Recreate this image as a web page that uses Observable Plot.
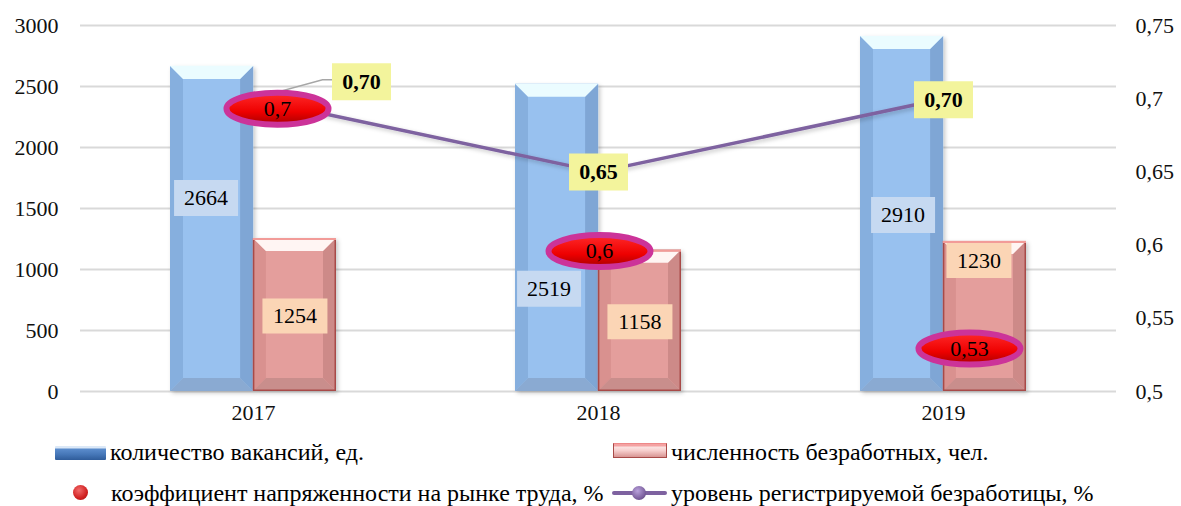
<!DOCTYPE html>
<html><head><meta charset="utf-8">
<script src="https://cdn.jsdelivr.net/npm/d3@7"></script>
<script src="https://cdn.jsdelivr.net/npm/@observablehq/plot@0.6"></script>
<style>
body{margin:0;background:#fff;}
#chart{position:relative;width:1181px;height:506px;overflow:hidden;}
#chart svg{position:absolute;left:0;top:0;}
.lg{position:absolute;font-size:24px;line-height:26px;color:#000;white-space:nowrap;}
.sw{position:absolute;}
</style></head><body><div id="chart" style="font-family:'Liberation Serif'"></div>
<script>
// ---- data ----
const years = ["2017", "2018", "2019"];
const vacancies = [2664, 2519, 2910];
const unemployed = [1254, 1158, 1230];
const tension = [0.7, 0.6, 0.53];
const tensionLabels = ["0,7", "0,6", "0,53"];
const unemploymentRate = [0.70, 0.65, 0.70];
const rateLabels = ["0,70", "0,65", "0,70"];
const leftTicks = [0, 500, 1000, 1500, 2000, 2500, 3000];
const rightTicks = [0.5, 0.55, 0.6, 0.65, 0.7, 0.75];
const rightTickLabels = ["0,5", "0,55", "0,6", "0,65", "0,7", "0,75"];
const seriesNames = ["количество вакансий, ед.", "численность безработных, чел.",
  "коэффициент напряженности на рынке труда, %", "уровень регистрируемой безработицы, %"];

// ---- layout ----
const W = 1181, H = 430, mL = 80, mR = 65, mT = 25, mB = 39;
const step = (W - mL - mR) / years.length;
const half = step * 0.48 / 2;
const rightDomain = [0.5, 0.75], leftMax = 3000;
const toLeft = v => (v - rightDomain[0]) / (rightDomain[1] - rightDomain[0]) * leftMax;
const FONT = "Liberation Serif";

// label nudges (pixels) — like manually moved data labels
const vacNudge = [[-6, -31], [-8, 51], [1, 1]];
const uneNudge = [[0, 1], [0, 1], [-6, -56]];
const tenNudge = [[24, 10], [1, 6], [26, 1]];
const rateNudge = [[108, -17], [0, 0], [0, 1]];

const rows = years.map((y, i) => ({year: y, vac: vacancies[i], une: unemployed[i],
  ten: tension[i], tenL: tensionLabels[i], rate: unemploymentRate[i], rateL: rateLabels[i], i}));
const segs = rows.slice(1).map((r, i) => ({x1: rows[i].year, x2: r.year, y1: toLeft(rows[i].rate), y2: toLeft(r.rate)}));

const ellipse = (rx, ry) => ({draw(ctx) {
  const k = 0.5523;
  ctx.moveTo(rx, 0);
  ctx.bezierCurveTo(rx, ry * k, rx * k, ry, 0, ry);
  ctx.bezierCurveTo(-rx * k, ry, -rx, ry * k, -rx, 0);
  ctx.bezierCurveTo(-rx, -ry * k, -rx * k, -ry, 0, -ry);
  ctx.bezierCurveTo(rx * k, -ry, rx, -ry * k, rx, 0);
  ctx.closePath();
}});
const box = (w, h) => ({draw(ctx) { ctx.rect(-w / 2, -h / 2, w, h); }});
const leader = {draw(ctx) { ctx.moveTo(0, 0); ctx.lineTo(69, -19); ctx.lineTo(79, -19); }};

const marks = [
  Plot.ruleY(leftTicks, {stroke: "#d9d9d9", strokeWidth: 2}),
  Plot.barY(rows, {x: "year", y: "vac", insetRight: half, fill: "#98C1EF"}),
  Plot.barY(rows, {x: "year", y: "une", insetLeft: half, fill: "#E49E9C"}),
  Plot.link(segs, {x1: "x1", x2: "x2", y1: "y1", y2: "y2", stroke: "#7E62A0", strokeWidth: 3.5, strokeLinecap: "round"}),
  Plot.dot([rows[0]], {x: "year", y: d => toLeft(d.rate), symbol: leader, fill: "none", stroke: "#a6a6a6", strokeWidth: 1.5})
];
rows.forEach((r, i) => {
  marks.push(Plot.dot([r], {x: "year", y: d => d.vac / 2, dx: -half / 2 + vacNudge[i][0], dy: vacNudge[i][1], symbol: box(64, 36), fill: "#C6D9F1"}));
  marks.push(Plot.text([r], {x: "year", y: d => d.vac / 2, dx: -half / 2 + vacNudge[i][0], dy: vacNudge[i][1], text: d => String(d.vac), fontSize: 22, fill: "#000"}));
  marks.push(Plot.dot([r], {x: "year", y: d => d.une / 2, dx: half / 2 + uneNudge[i][0], dy: uneNudge[i][1], symbol: box(65, 35), fill: "#FBD5B5"}));
  marks.push(Plot.text([r], {x: "year", y: d => d.une / 2, dx: half / 2 + uneNudge[i][0], dy: uneNudge[i][1], text: d => String(d.une), fontSize: 22, fill: "#000"}));
  marks.push(Plot.dot([r], {x: "year", y: d => toLeft(d.ten), dx: tenNudge[i][0], dy: tenNudge[i][1], symbol: ellipse(51, 16), fill: "url(#redGrad)", stroke: "#CC3399", strokeWidth: 6}));
  marks.push(Plot.text([r], {x: "year", y: d => toLeft(d.ten), dx: tenNudge[i][0], dy: tenNudge[i][1], text: "tenL", fontSize: 22, fill: "#000"}));
  marks.push(Plot.dot([r], {x: "year", y: d => toLeft(d.rate), dx: rateNudge[i][0], dy: rateNudge[i][1], symbol: box(59, 37), fill: "#F3F49C"}));
  marks.push(Plot.text([r], {x: "year", y: d => toLeft(d.rate), dx: rateNudge[i][0], dy: rateNudge[i][1], text: "rateL", fontSize: 22, fontWeight: "bold", fill: "#000"}));
});
marks.push(
  Plot.axisY(leftTicks, {anchor: "left", tickSize: 0, tickPadding: 22, fontSize: 22, label: null, tickFormat: d => String(d)}),
  Plot.axisY(rightTicks.map(toLeft), {anchor: "right", tickSize: 0, tickPadding: 19, fontSize: 22, label: null,
    tickFormat: d => rightTickLabels[rightTicks.findIndex(t => Math.abs(toLeft(t) - d) < 1e-6)]}),
  Plot.axisX({tickSize: 0, tickPadding: 13, fontSize: 22, label: null})
);

const svg = Plot.plot({
  width: W, height: H, marginLeft: mL, marginRight: mR, marginTop: mT, marginBottom: mB,
  style: {fontFamily: FONT, fontSize: "22px", color: "#111", background: "transparent"},
  x: {type: "band", domain: years, paddingInner: 0.52, paddingOuter: 0.26, axis: null},
  y: {domain: [0, leftMax], axis: null},
  marks
});
svg.setAttribute("font-family", FONT);
d3.select(svg).selectAll("text").style("font-family", FONT).attr("font-family", FONT);
d3.select(svg).selectAll("g").style("font-family", FONT);

d3.select(svg).insert("defs", ":first-child").html(`
  <linearGradient id="redGrad" x1="0" y1="0" x2="0" y2="1">
    <stop offset="0" stop-color="#ff2a2a"/><stop offset="0.6" stop-color="#ee0000"/><stop offset="1" stop-color="#a80000"/>
  </linearGradient>
  <filter id="shd" x="-20%" y="-20%" width="140%" height="140%"><feDropShadow dx="2" dy="2" stdDeviation="2" flood-color="#000" flood-opacity="0.22"/></filter>`);

const barGroups = d3.select(svg).selectAll('g[aria-label="bar"]').nodes();
function bevel(gNode, c, b) {
  d3.select(gNode).selectAll("rect").each(function () {
    const r = d3.select(this);
    const x = +r.attr("x"), y = +r.attr("y"), w = +r.attr("width"), h = +r.attr("height");
    const g = d3.select(this.parentNode);
    r.attr("filter", "url(#shd)");
    const poly = (pts, fill) => g.append("polygon").attr("points", pts.map(p => p.join(",")).join(" ")).attr("fill", fill);
    poly([[x, y], [x + b, y + b], [x + b, y + h - b], [x, y + h]], c.left);
    poly([[x + w, y], [x + w - b, y + b], [x + w - b, y + h - b], [x + w, y + h]], c.right);
    poly([[x, y], [x + w, y], [x + w - b, y + b], [x + b, y + b]], c.top);
    poly([[x, y + h], [x + w, y + h], [x + w - b, y + h - b], [x + b, y + h - b]], c.bottom);
    if (c.border) g.append("rect").attr("x", x + 0.75).attr("y", y + 0.75).attr("width", w - 1.5).attr("height", h - 1.5)
      .attr("fill", "none").attr("stroke", c.border).attr("stroke-width", 1.5);
    if (c.topLine) g.append("line").attr("x1", x).attr("x2", x + w).attr("y1", y + 1).attr("y2", y + 1).attr("stroke", c.topLine).attr("stroke-width", 2);
  });
}
if (barGroups[0]) bevel(barGroups[0], {left: "#86AFDE", right: "#7FA6D5", top: "#EBFCFF", bottom: "#8AAAD2"}, 13);
if (barGroups[1]) bevel(barGroups[1], {left: "#D9918F", right: "#CD8A88", top: "#FFF5F3", bottom: "#C98E8C", border: "#A84A48", topLine: "#F29B98"}, 13);
d3.select(svg).selectAll('g[aria-label="link"] path').attr("filter", "url(#shd)");

const chart = document.getElementById("chart");
chart.appendChild(svg);

const F = `font-family:'${FONT}';`;
const legend = document.createElement("div");
legend.innerHTML = `
  <div class="sw" style="left:55px;top:446px;width:51px;height:14px;background:linear-gradient(#dbe8f7 0,#dbe8f7 2px,#5b8ccc 3px,#4677b8 60%,#2f5c9a 100%);border-radius:1px"></div>
  <div class="lg" style="${F}left:110px;top:439px">${seriesNames[0]}</div>
  <div class="sw" style="left:613px;top:443px;width:52px;height:13px;background:linear-gradient(#f4a2a2 0,#f4a2a2 2px,#fbe3e2 3px,#f7cfce 50%,#d89593 100%);border:1.5px solid #a84a48;border-top-color:#e88"></div>
  <div class="lg" style="${F}left:671px;top:439px">${seriesNames[1]}</div>
  <div class="sw" style="left:73px;top:485px;width:15px;height:15px;border-radius:50%;background:radial-gradient(circle at 40% 35%,#f26a6a,#d02020 60%,#a01010)"></div>
  <div class="lg" style="${F}left:111px;top:480px">${seriesNames[2]}</div>
  <div class="sw" style="left:612px;top:491px;width:55px;height:4px;background:#7E62A0;border-radius:2px"></div>
  <div class="sw" style="left:632px;top:486px;width:14px;height:14px;border-radius:50%;background:radial-gradient(circle at 40% 35%,#b9a2dc,#7E62A0 60%,#4f3a70)"></div>
  <div class="lg" style="${F}left:671px;top:480px">${seriesNames[3]}</div>`;
chart.appendChild(legend);
</script>
</body></html>
